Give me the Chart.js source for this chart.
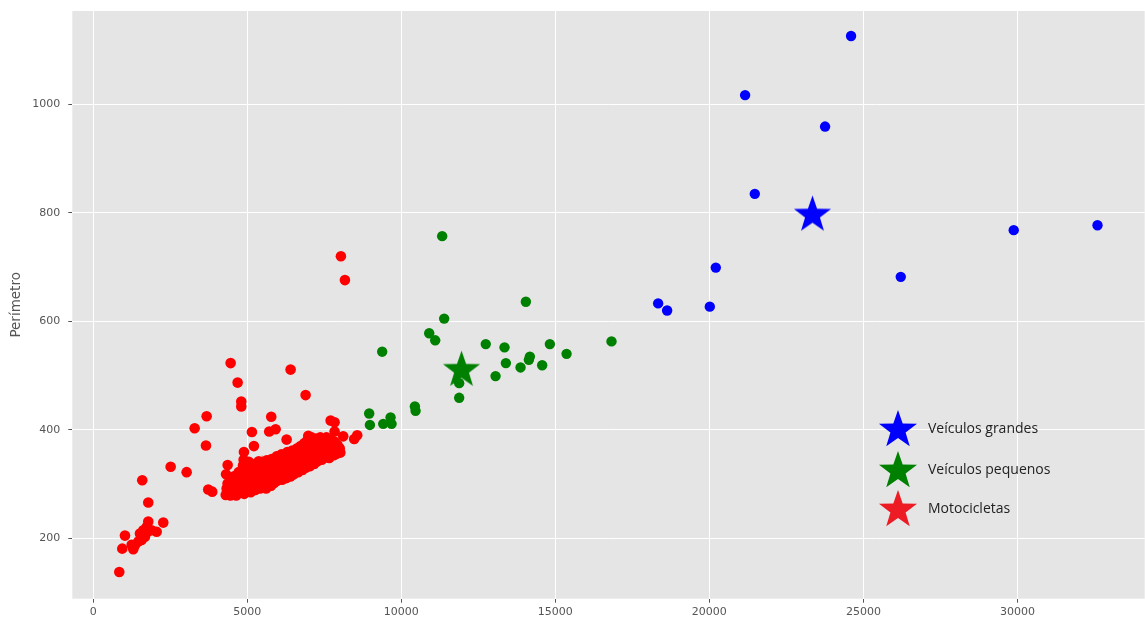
<!DOCTYPE html>
<html>
<head>
<meta charset="utf-8">
<script src="https://cdn.jsdelivr.net/npm/chart.js@4"></script>
<style>
  html, body { margin:0; padding:0; background:#fff; overflow:hidden; }
  #chart { display:block; }
</style>
</head>
<body>
<!-- a little wider than the window: Chart.js keeps ~5px on the right, the plot runs to the edge -->
<canvas id="chart" width="1150" height="624"></canvas>
<script>
// tick labels
const xTicks = [0, 5000, 10000, 15000, 20000, 25000, 30000];
const yTicks = [200, 400, 600, 800, 1000];
const yTitle = "Perímetro";

// big vehicles (x, perimeter)
const grandesPts = [
  [24600,1126],[21160,1017],[23756,959],[21475,835],[20209,699],[29880,768],
  [32600,777],[26213,682],[18337,633],[18629,620],[20014,627]
];

// small vehicles
const pequenosPts = [
  [11326,757],[14043,636],[11391,605],[10905,578],[11100,565],[9379,544],
  [12741,558],[13350,552],[14822,558],[16823,563],[15364,540],[13394,523],
  [14173,535],[14140,529],[13870,515],[14572,519],[13059,499],[11878,486],
  [11878,459],[8957,430],[8980,409],[9412,411],[9651,423],[9684,411],
  [10440,443],[10463,435]
];

// motorcycles
const motoPts = [
  [844,138],[941,181],[1029,205],[1246,188],[1298,180],[1353,187],[1461,194],
  [1515,209],[1570,197],[1623,215],[1678,203],[1732,221],[1765,212],[1785,231],
  [1895,215],[2057,212],[2272,229],[1785,266],[1590,307],[2512,332],[3031,322],
  [3732,290],[3862,286],[3680,425],[3291,403],[3658,371],[4459,523],[4686,487],
  [4804,452],[4804,443],[6406,511],[6893,464],[5777,424],[5150,396],[5215,370],
  [4891,359],[5919,401],[5712,397],[6276,382],[7705,417],[7834,414],[7834,397],
  [8113,388],[8568,390],[8470,383],[4362,335],[8039,720],[8169,676],
  [4300,280],[4330,292],[4360,301],[4310,318],[4400,286],[4420,296],[4450,279],
  [4480,308],[4500,290],[4540,283],[4560,300],[4590,315],[4620,288],[4640,279],
  [4660,305],[4700,294],[4720,322],[4750,284],[4780,300],[4800,312],[4830,289],
  [4860,334],[4880,345],[4870,303],[4900,282],[4920,318],[4950,295],[4980,327],
  [5000,287],[5020,306],[5050,341],[5060,297],[5090,318],[5110,285],[5140,330],
  [5160,302],[5190,292],[5210,316],[5240,337],[5260,289],[5290,306],[5310,324],
  [5340,296],[5370,342],[5390,313],[5420,292],[5440,330],[5460,303],[5490,319],
  [5510,296],[5530,338],[5560,308],[5590,326],[5610,292],[5630,344],[5660,314],
  [5690,300],[5710,332],[5740,321],[5770,297],[5790,346],[5810,310],[5840,327],
  [5870,302],[5890,338],[5920,316],[5950,351],[5970,306],[6000,330],[6030,343],
  [6050,312],[6080,323],[6110,355],[6130,308],[6160,337],[6190,319],[6210,348],
  [6240,328],[6270,311],[6300,359],[6320,339],[6350,322],[6380,350],[6400,314],
  [6430,333],[6460,362],[6480,344],[6510,318],[6540,328],[6560,354],[6590,338],
  [6620,366],[6650,322],[6680,347],[6700,333],[6730,370],[6760,357],[6790,326],
  [6810,342],[6840,375],[6870,352],[6900,330],[6920,364],[6950,381],[6980,389],
  [6980,343],[7010,356],[7030,333],[7060,372],[7090,386],[7110,349],[7140,362],
  [7170,337],[7200,378],[7230,355],[7250,384],[7280,342],[7310,368],[7340,351],
  [7370,386],[7400,374],[7420,345],[7450,360],[7480,381],[7510,349],[7540,369],
  [7570,386],[7600,355],[7630,376],[7660,348],[7690,364],[7720,382],[7750,357],
  [7780,372],[7810,353],[7840,378],[7870,362],[7900,356],[7930,372],[7960,360],
  [8000,366],[8020,358]
];

// cluster centres
const centros = [[23347,796],[11955,510],[5480,317]];
const centroColors = ["#0000ff", "#008000", "#ff0000"];

// legend
const legendLabels = ["Veículos grandes", "Veículos pequenos", "Motocicletas"];
const legendColors = ["#0000ff", "#008000", "#ed1c24"];

function starImage(color, r) {
  const c = document.createElement("canvas");
  const s = Math.ceil(r * 2 + 2);
  c.width = s; c.height = s;
  const g = c.getContext("2d");
  const cx = s / 2, cy = s / 2, ri = r * 0.4;
  g.beginPath();
  for (let i = 0; i < 10; i++) {
    const rr = i % 2 ? ri : r;
    const a = -Math.PI / 2 + i * Math.PI / 5;
    g.lineTo(cx + rr * Math.cos(a), cy + rr * Math.sin(a));
  }
  g.closePath();
  g.fillStyle = color;
  g.fill();
  return c;
}

const toXY = arr => arr.map(p => ({x: p[0], y: p[1]}));

const bgPlugin = {
  id: "plotBg",
  beforeDraw(chart) {
    const {ctx, chartArea: a} = chart;
    ctx.save();
    ctx.fillStyle = "#e5e5e5";
    ctx.fillRect(a.left, a.top, a.right - a.left, a.bottom - a.top);
    ctx.restore();
  }
};

const legendPlugin = {
  id: "starLegend",
  afterDraw(chart) {
    const ctx = chart.ctx;
    const rows = [430, 471, 510];
    ctx.save();
    ctx.font = "14px 'Open Sans'";
    ctx.fillStyle = "#222222";
    ctx.textBaseline = "middle";
    legendLabels.forEach((t, i) => {
      const img = starImage(legendColors[i], 20);
      ctx.drawImage(img, 898 - img.width / 2, rows[i] - img.height / 2);
      ctx.fillText(t, 928, rows[i] - 1);
    });
    ctx.restore();
  }
};

new Chart(document.getElementById("chart"), {
  type: "scatter",
  data: {
    datasets: [
      {
        label: "Centros",
        data: toXY(centros),
        pointStyle: centroColors.map(c => starImage(c, 19.5)),
        order: 0
      },
      {
        label: "Veículos grandes",
        data: toXY(grandesPts),
        backgroundColor: "#0000ff",
        pointRadius: 5.2,
        pointBorderWidth: 0,
        order: 1
      },
      {
        label: "Veículos pequenos",
        data: toXY(pequenosPts),
        backgroundColor: "#008000",
        pointRadius: 5.2,
        pointBorderWidth: 0,
        order: 2
      },
      {
        label: "Motocicletas",
        data: toXY(motoPts),
        backgroundColor: "#ff0000",
        pointRadius: 5.3,
        pointBorderWidth: 0,
        order: 3
      }
    ]
  },
  options: {
    responsive: false,
    animation: false,
    events: [],
    layout: { padding: { top: 11, right: 0, bottom: 0, left: 0 } },
    plugins: { legend: { display: false }, tooltip: { enabled: false } },
    scales: {
      x: {
        type: "linear",
        min: -681,
        max: 34132,
        afterBuildTicks: ax => { ax.ticks = xTicks.map(v => ({value: v})); },
        afterFit: ax => {
          ax.height = 25.3;
          ax.paddingLeft = 0; ax.paddingRight = 0;
        },
        border: { display: false },
        grid: { color: "#ffffff", lineWidth: 1, tickColor: "#555555", tickLength: 4 },
        ticks: {
          color: "#555555",
          padding: 3,
          maxRotation: 0,
          font: { family: "'DejaVu Sans'", size: 11 },
          callback: v => String(v)
        }
      },
      y: {
        type: "linear",
        min: 88.7,
        max: 1172,
        afterBuildTicks: ax => { ax.ticks = yTicks.map(v => ({value: v})); },
        afterFit: ax => {
          ax.width = 72.3;
          ax.paddingTop = 0; ax.paddingBottom = 0;
        },
        border: { display: false },
        grid: { color: "#ffffff", lineWidth: 1, tickColor: "#555555", tickLength: 4 },
        ticks: {
          color: "#555555",
          padding: 8,
          font: { family: "'DejaVu Sans'", size: 11 },
          callback: v => String(v)
        },
        title: {
          display: true,
          text: yTitle,
          color: "#555555",
          padding: { top: 8.6, bottom: 0 },
          font: { family: "'DejaVu Sans'", size: 13.5 }
        }
      }
    }
  },
  plugins: [bgPlugin, legendPlugin]
});
</script>
</body>
</html>
